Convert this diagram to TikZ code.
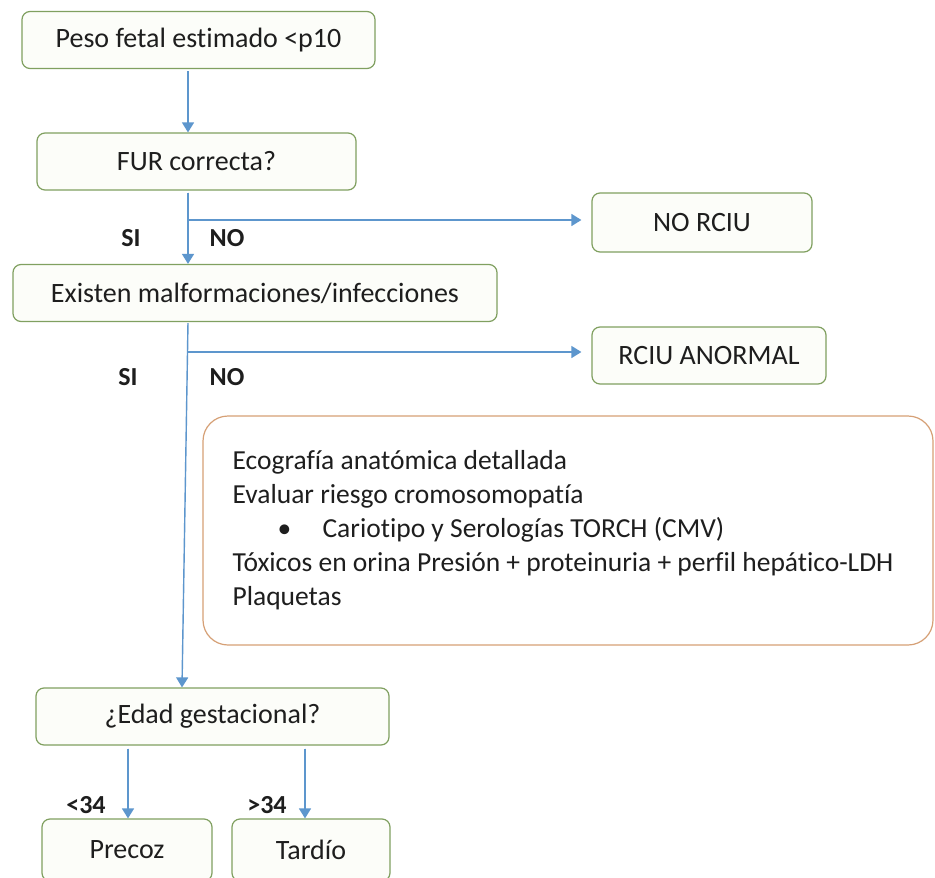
\documentclass[tikz,border=0pt]{standalone}
\usepackage{fontspec}
\setmainfont[Ligatures=NoCommon]{Carlito}
\usepackage{tikz}
\usetikzlibrary{arrows.meta,positioning}

\definecolor{boxgreen}{RGB}{128,160,96}
\definecolor{boxfill}{RGB}{252,253,249}
\definecolor{flowblue}{RGB}{93,150,205}
\definecolor{noteorange}{RGB}{214,160,118}
\definecolor{ink}{RGB}{30,30,30}

\begin{document}
\begin{tikzpicture}[
  x = 1pt, y = -1pt,
  > = {Triangle[width=12pt,length=10pt]},
  flow/.style = {rectangle, draw=boxgreen, fill=boxfill, line width=1.2pt,
                 rounded corners=8pt, minimum height=57pt, inner sep=0pt,
                 text=ink, font=\fontsize{28}{33}\selectfont},
  note/.style = {rectangle, draw=noteorange, fill=white, line width=1.2pt,
                 rounded corners=25pt, inner sep=0pt},
  checklist/.style = {align=left, inner sep=0pt, text=ink,
                      font=\fontsize{27.5}{34}\selectfont},
  ans/.style = {inner sep=0pt, text=ink,
                font=\fontsize{26}{30}\selectfont\bfseries},
  arr/.style = {->, draw=flowblue, fill=flowblue, line width=1.4pt}
]
\fill[white] (0,0) rectangle (935,878);
\useasboundingbox (0,0) rectangle (935,878);

% boxes
\node[flow, minimum width=353pt] (peso) at (198.5,40) {Peso fetal estimado <p10};
\node[flow, minimum width=319pt] (fur) at (196.5,161.5) {FUR correcta?};
\node[flow, minimum width=484pt] (exist) at (255,293) {Existen malformaciones/infecciones};
\node[flow, minimum width=220pt, minimum height=59pt] (norciu) at (702,222.5) {NO RCIU};
\node[flow, minimum width=234pt] (anormal) at (709,355.5) {RCIU ANORMAL};
\node[note, minimum width=730pt, minimum height=229pt] (checks) at (568,530.5) {};
\node[checklist, anchor=west] (checktext) at ([xshift=30pt]checks.west) {%
  Ecografía anatómica detallada\\
  Evaluar riesgo cromosomopatía\\
  \makebox[90pt][l]{\hspace*{45pt}\textbullet}Cariotipo y Serologías TORCH (CMV)\\
  Tóxicos en orina Presión + proteinuria + perfil hepático-LDH\\
  Plaquetas};
\node[flow, minimum width=353pt] (edad) at (212.5,716.5) {¿Edad gestacional?};
\node[flow, minimum width=170pt, minimum height=62pt] (precoz) at (127,850) {Precoz};
\node[flow, minimum width=158pt, minimum height=62pt] (tardio) at (311,850) {Tardío};

% answers
\node[ans] (si1) at (131,238) {SI};
\node[ans] (no1) at (227,238) {NO};
\node[ans] (si2) at (128,377) {SI};
\node[ans] (no2) at (227,377) {NO};
\node[ans] (lt34) at (86,805) {<34};
\node[ans] (gt34) at (267,805) {>34};

% connectors
\coordinate (spine) at (188,0);
\coordinate (spinelow) at (182,0);
\coordinate (early) at (128,0);
\coordinate (late) at (305,0);
\coordinate (fork1) at (188,220);
\coordinate (fork2) at (188,352);

\draw[arr, shorten <=2pt] (peso.south -| spine) -- (fur.north -| spine);
\draw[arr, shorten <=2pt] (fur.south -| spine) -- (exist.north -| spine);
\draw[arr, shorten >=10pt] (fork1) -- (fork1 -| norciu.west);
\draw[arr, shorten <=1pt] (exist.south -| spine) -- (edad.north -| spinelow);
\draw[arr, shorten >=10pt] (fork2) -- (fork2 -| anormal.west);
\draw[arr, shorten <=3pt] (edad.south -| early) -- (precoz.north -| early);
\draw[arr, shorten <=3pt] (edad.south -| late) -- (tardio.north -| late);
\end{tikzpicture}
\end{document}
